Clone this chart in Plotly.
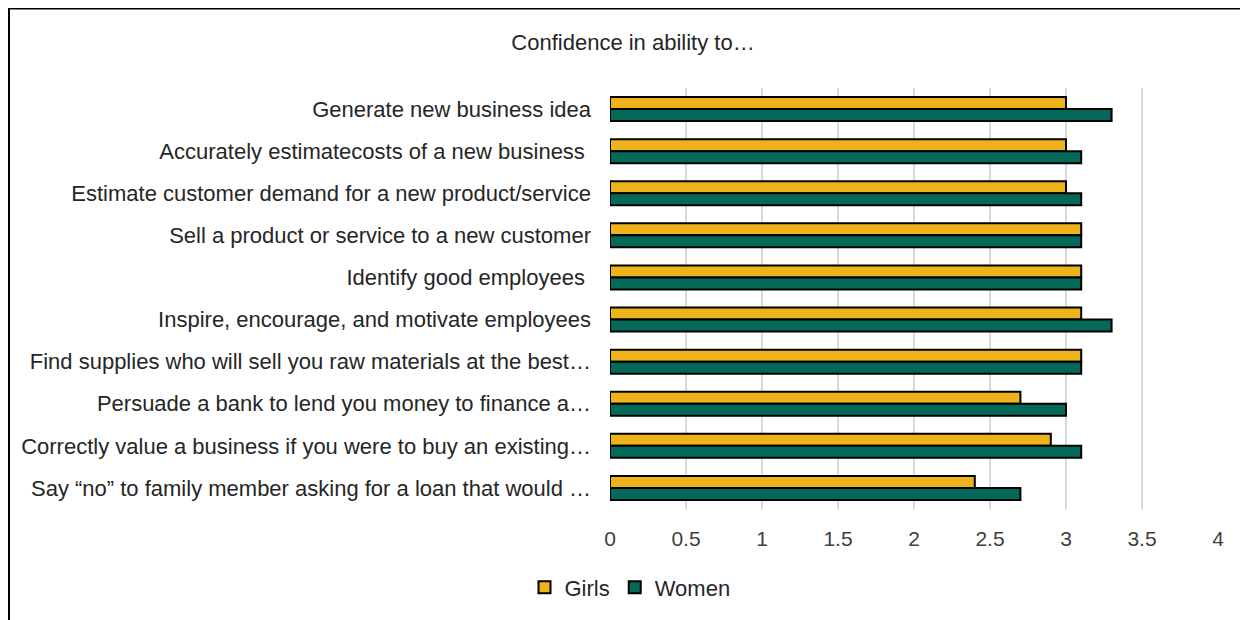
import plotly.graph_objects as go

categories = [
    "Generate new business idea",
    "Accurately estimatecosts of a new business ",
    "Estimate customer demand for a new product/service",
    "Sell a product or service to a new customer",
    "Identify good employees ",
    "Inspire, encourage, and motivate employees",
    "Find supplies who will sell you raw materials at the best…",
    "Persuade a bank to lend you money to finance a…",
    "Correctly value a business if you were to buy an existing…",
    "Say “no” to family member asking for a loan that would …",
]
girls = [3.0, 3.0, 3.0, 3.1, 3.1, 3.1, 3.1, 2.7, 2.9, 2.4]
women = [3.3, 3.1, 3.1, 3.1, 3.1, 3.3, 3.1, 3.0, 3.1, 2.7]
x_ticks = [0, 0.5, 1, 1.5, 2, 2.5, 3, 3.5, 4]
x_tick_labels = ["0", "0.5", "1", "1.5", "2", "2.5", "3", "3.5", "4"]

FONT = "Liberation Sans, Arial, sans-serif"

fig = go.Figure()
fig.add_trace(go.Bar(
    y=categories, x=girls, name="Girls", orientation="h",
    marker=dict(color="#EEB31B", line=dict(color="#000000", width=2)),
))
fig.add_trace(go.Bar(
    y=categories, x=women, name="Women", orientation="h",
    marker=dict(color="#05695A", line=dict(color="#000000", width=2)),
))

# page body has an 8px margin: work in page pixels, convert to figure pixels
OFF = 8
W, H = 1240, 612
L, R, T, B = 610 - OFF, 30, 88 - OFF, 108
pw, ph = W - L - R, H - T - B

def px_x(p):
    return (p - OFF - L) / pw

def px_y(p):
    return (H - B - (p - OFF)) / ph

fig.update_layout(
    width=W, height=H,
    margin=dict(l=L, r=R, t=T, b=B),
    paper_bgcolor="white", plot_bgcolor="white",
    barmode="group", bargap=0.43, bargroupgap=0.0,
    font=dict(family=FONT, size=22, color="#262626"),
    title=dict(text="Confidence in ability to…", x=(633 - OFF) / W, xanchor="center",
               y=1 - (42 - OFF) / H, yanchor="middle",
               font=dict(family=FONT, size=22, color="#262626")),
    xaxis=dict(range=[0, 4], tickvals=x_ticks, ticktext=x_tick_labels,
               showgrid=True, gridcolor="#D9D9D9", gridwidth=2,
               zeroline=False, showline=False, ticks="",
               tickfont=dict(size=21, color="#404040"), ticklabelstandoff=15),
    yaxis=dict(autorange="reversed", showgrid=False, zeroline=False,
               showline=False, ticks="", ticklabelstandoff=18,
               tickfont=dict(size=22, color="#262626")),
    legend=dict(orientation="h", x=px_x(630), xanchor="center",
                y=px_y(591), yanchor="middle",
                font=dict(size=22, color="#262626"),
                itemwidth=30, traceorder="normal"),
    showlegend=True,
)

fig.add_shape(type="rect", xref="paper", yref="paper",
              x0=px_x(9), x1=px_x(1270), y0=px_y(650), y1=px_y(8),
              line=dict(color="black", width=2), fillcolor="rgba(0,0,0,0)",
              layer="above")

fig.write_html("out.html")
